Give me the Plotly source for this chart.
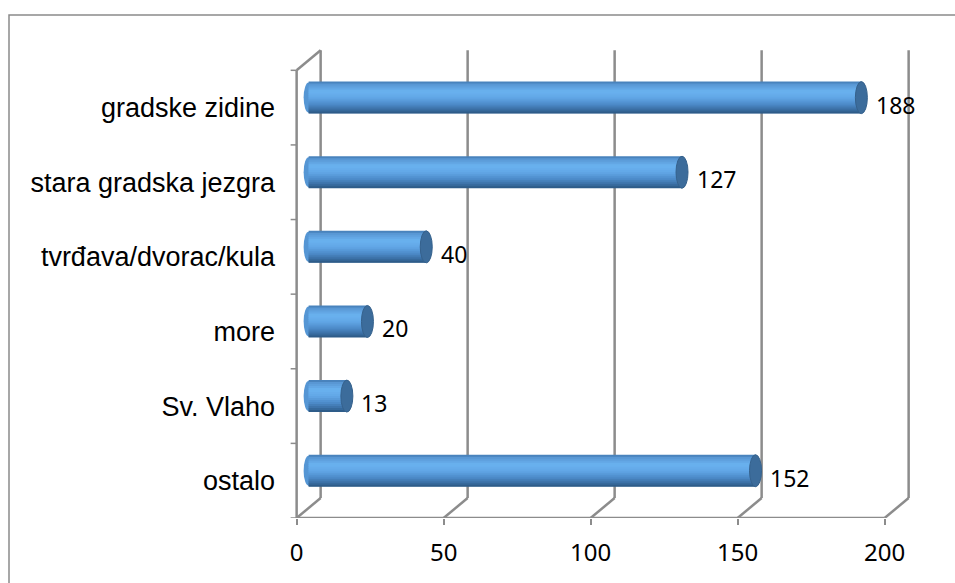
import plotly.graph_objects as go

# Survey answers: what visitors associate with the city
categories = ["gradske zidine", "stara gradska jezgra", "tvrđava/dvorac/kula",
              "more", "Sv. Vlaho", "ostalo"]
counts = [188, 127, 40, 20, 13, 152]
x_ticks = [0, 50, 100, 150, 200]

W, H = 955, 583
L, R, T, B = 279, 23, 33, 65
PX_PER_X = 2.94
X0 = -6.0
X1 = X0 + (W - L - R) / PX_PER_X
Y_TOP, Y_BOT = -1.0, 5.5
PX_PER_Y = (H - T - B) / (Y_BOT - Y_TOP)

# perspective offsets (data units) for the back wall and the bar plane
DX_BACK = 24 / PX_PER_X
DY_BACK = -20 / PX_PER_Y
DX_MID = DX_BACK / 2
DY_MID = DY_BACK / 2

BAR_H = 32 / PX_PER_Y
CAP_W = 6 / PX_PER_X
N_BANDS = 16

idx = list(range(len(categories)))


def lerp_color(stops, t):
    for (t0, c0), (t1, c1) in zip(stops, stops[1:]):
        if t0 <= t <= t1:
            f = (t - t0) / (t1 - t0) if t1 > t0 else 0
            a = [int(c0[i:i + 2], 16) for i in (1, 3, 5)]
            b = [int(c1[i:i + 2], 16) for i in (1, 3, 5)]
            return "rgb({},{},{})".format(*[round(a[k] + (b[k] - a[k]) * f) for k in range(3)])
    return stops[-1][1]


# vertical shading of the cylinders, top to bottom
shade = [(0.0, "#3f78b0"), (0.08, "#5895d2"), (0.3, "#6ab2f0"), (0.5, "#62a7e7"),
         (0.72, "#4c8ac8"), (0.88, "#3a6ea2"), (1.0, "#2a5580")]

fig = go.Figure()

band = BAR_H / N_BANDS
for k in range(N_BANDS):
    # each band is drawn slightly taller than its slot so the seams close up
    fig.add_trace(go.Bar(
        orientation="h",
        y=idx,
        x=counts,
        base=[DX_MID] * len(counts),
        width=band * (1.8 if k < N_BANDS - 1 else 1.0),
        offset=DY_MID - BAR_H / 2 + k * band,
        marker=dict(color=lerp_color(shade, (k + 0.5) / N_BANDS), line=dict(width=0)),
        showlegend=False,
        hoverinfo="skip",
    ))

shapes = []
grid = dict(color="#8c8c8c", width=2.5)

# back wall gridlines and floor diagonals
for v in x_ticks:
    shapes.append(dict(type="line", xref="x", yref="y", layer="below",
                       x0=v + DX_BACK, x1=v + DX_BACK,
                       y0=-0.5 + DY_BACK, y1=5.5 + DY_BACK, line=grid))
    shapes.append(dict(type="line", xref="x", yref="y", layer="below",
                       x0=v, x1=v + DX_BACK, y0=5.5, y1=5.5 + DY_BACK, line=grid))

# front floor edge, left wall edge and its top diagonal
shapes.append(dict(type="line", xref="x", yref="y", layer="below",
                   x0=0, x1=x_ticks[-1], y0=5.5, y1=5.5, line=grid))
shapes.append(dict(type="line", xref="x", yref="y", layer="below",
                   x0=0, x1=0, y0=-0.5, y1=5.5, line=grid))
shapes.append(dict(type="line", xref="x", yref="y", layer="below",
                   x0=0, x1=DX_BACK, y0=-0.5, y1=-0.5 + DY_BACK, line=grid))

# category boundary ticks on the left edge
for b in range(len(categories) + 1):
    shapes.append(dict(type="line", xref="x", yref="y", layer="below",
                       x0=-6 / PX_PER_X, x1=0, y0=b - 0.5, y1=b - 0.5,
                       line=dict(color="#8c8c8c", width=1.5)))

# cylinder end caps
for i, v in zip(idx, counts):
    yc = i + DY_MID
    shapes.append(dict(type="circle", xref="x", yref="y", layer="below",
                       x0=DX_MID - 5 / PX_PER_X, x1=DX_MID + 5 / PX_PER_X,
                       y0=yc - BAR_H / 2 + band * 0.5, y1=yc + BAR_H / 2 - band * 0.5,
                       fillcolor="#5596d4", line=dict(width=0)))
    shapes.append(dict(type="circle", xref="x", yref="y", layer="above",
                       x0=v + DX_MID - CAP_W, x1=v + DX_MID + CAP_W,
                       y0=yc - BAR_H / 2, y1=yc + BAR_H / 2,
                       fillcolor="#3c6c9b", line=dict(color="#35618c", width=1)))


# outer chart frame
def px_to_paper_x(px):
    return (px - L) / (W - L - R)


def px_to_paper_y(py):
    return 1 - (py - T) / (H - T - B)


shapes.append(dict(type="rect", xref="paper", yref="paper", layer="below",
                   x0=px_to_paper_x(9), x1=px_to_paper_x(W + 20),
                   y0=px_to_paper_y(H + 20), y1=px_to_paper_y(15),
                   line=dict(color="#8a8a8a", width=1.5), fillcolor="rgba(0,0,0,0)"))

annotations = []
for i, v in zip(idx, counts):
    annotations.append(dict(
        x=v + 24.5 / PX_PER_X, y=i - 3 / PX_PER_Y, xref="x", yref="y",
        text=str(v), showarrow=False, xanchor="left", yanchor="middle",
        font=dict(family="Noto Sans", size=23, color="black"),
    ))

fig.update_layout(
    width=W, height=H,
    margin=dict(l=L, r=R, t=T, b=B),
    paper_bgcolor="white", plot_bgcolor="white",
    barmode="overlay",
    shapes=shapes,
    annotations=annotations,
    xaxis=dict(range=[X0, X1], tickvals=x_ticks, ticktext=[str(t) for t in x_ticks],
               showgrid=False, zeroline=False, showline=False,
               ticks="outside", ticklen=6, tickwidth=2, tickcolor="#8c8c8c",
               ticklabelstandoff=7,
               tickfont=dict(family="Noto Sans", size=24, color="black")),
    yaxis=dict(range=[Y_BOT, Y_TOP], tickvals=idx, ticktext=categories,
               showgrid=False, zeroline=False, showline=False, ticks="",
               ticklabelstandoff=3,
               tickfont=dict(family="Liberation Sans", size=27, color="black")),
)

fig.write_html("out.html")
